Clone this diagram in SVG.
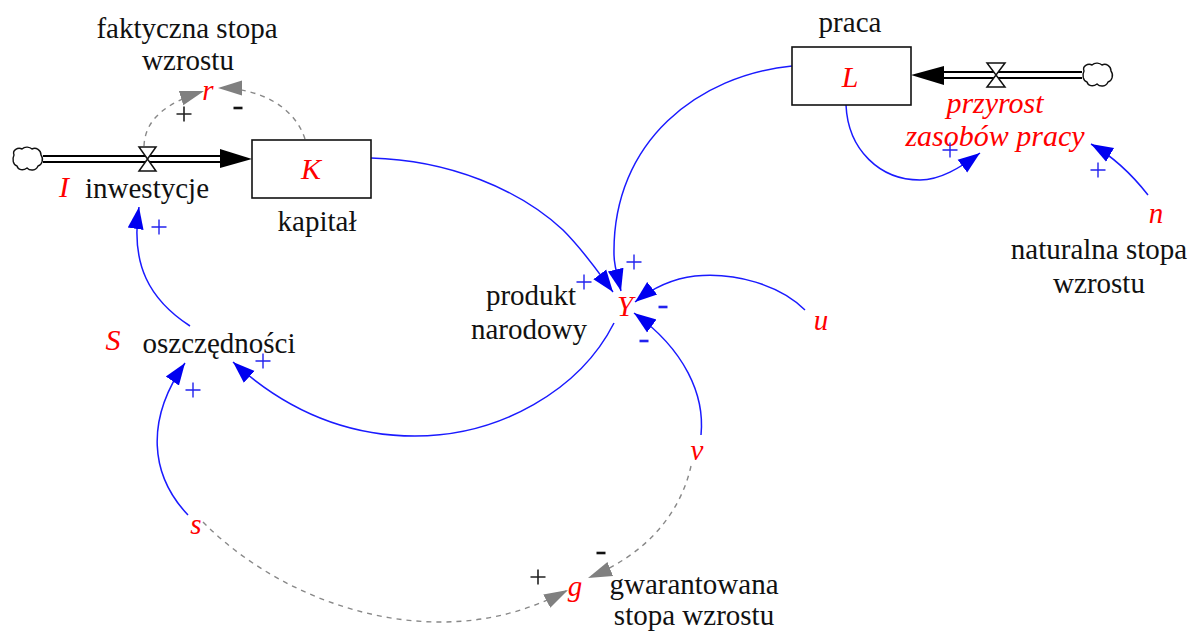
<svg xmlns="http://www.w3.org/2000/svg" width="1192" height="632" viewBox="0 0 1192 632">
<style>
text{font-family:"Liberation Serif","Times New Roman",serif;font-size:29px;fill:#111;text-anchor:middle}
.v{fill:#f00;font-style:italic;font-size:30px}
.vs{fill:#f00;font-style:italic;font-size:29px}
.stock{fill:#fff;stroke:#111;stroke-width:1.6}
.pipe{fill:none;stroke:#000;stroke-width:2}
.valve{fill:#fff;stroke:#111;stroke-width:1.5}
.cloud{fill:#fff;stroke:#111;stroke-width:1.4}
.link{fill:none;stroke:#1a1aff;stroke-width:1.5;marker-end:url(#blue)}
.dash{fill:none;stroke:#888;stroke-width:1.4;stroke-dasharray:5 5;marker-end:url(#gray)}
.sb{stroke:#2222ee;stroke-width:1.4;fill:none}
.sk{stroke:#222;stroke-width:1.6;fill:none}
.mb{stroke:#2222ee;stroke-width:2.6;fill:none}
.mk{stroke:#111;stroke-width:2.6;fill:none}
</style>
<defs>
<marker id="blue" markerUnits="userSpaceOnUse" markerWidth="24" markerHeight="20" refX="22" refY="10" orient="auto"><path d="M0 2L22 10L0 18Z" fill="#0000f0"/></marker>
<marker id="gray" markerUnits="userSpaceOnUse" markerWidth="26" markerHeight="20" refX="24" refY="10" orient="auto"><path d="M0 2.500L24 10L0 17.500Z" fill="#808080"/></marker>
<path id="cl" d="M2 8C0 3 6 0 10 2C13 -1 18 0 20 2C24 0 29 3 29 8C32 12 30 18 26 19C24 24 18 24 15 21C11 24 6 23 5 19C1 18 0 12 2 8Z"/>
<path id="pl" d="M-7.500 0H7.500M0 -7.500V7.500"/>
<path id="mn" d="M-4.500 0H4.500"/>
</defs>

<g id="connectors">
<path class="dash" d="M144 146C145 120 165 103 204 91"/>
<path class="dash" d="M305 139C295 108 262 88 218 88"/>
<path class="link" d="M371 158C450 160 520 190 563 230C585 252 598 272 613 292"/>
<path class="link" d="M792 66C700 75 612 140 614 255C614 265 617 275 621 291"/>
<path class="link" d="M805 310C780 285 735 272 695 276C670 279 650 290 635 302"/>
<path class="link" d="M701 435C705 395 685 350 634 313"/>
<path class="link" d="M614 323C580 390 500 436 415 436C340 436 280 405 233 362"/>
<path class="link" d="M190 326C150 300 130 265 139 207"/>
<path class="link" d="M188 515C150 475 145 420 185 363"/>
<path class="dash" d="M203 522C260 580 350 622 440 622C490 622 530 610 568 590"/>
<path class="dash" d="M691 466C680 515 645 555 588 578"/>
<path class="link" d="M846 105C848 150 880 180 920 180C940 180 960 168 980 153"/>
<path class="link" d="M1148 195C1130 172 1112 156 1091 144"/>
</g>

<g id="flow-inwestycje">
<use href="#cl" class="cloud" x="12" y="147"/>
<path class="pipe" d="M43 156H222M43 162H222"/>
<path d="M220 149L252 159L220 168Z" fill="#000"/>
<path class="valve" d="M139 147H156L139 171H156Z"/>
<text class="v" x="64" y="197">I</text>
<text x="147" y="198">inwestycje</text>
</g>
<g id="flow-przyrost">
<use href="#cl" class="cloud" x="1082" y="63"/>
<path class="pipe" d="M942 72H1082M942 78H1082"/>
<path d="M944 66L911 75L944 85Z" fill="#000"/>
<path class="valve" d="M987 63H1005L987 87H1005Z"/>
<text class="v" x="995" y="113">przyrost</text>
<text class="v" x="995" y="146">zasobów pracy</text>
</g>
<g id="stock-K">
<rect class="stock" x="252" y="140" width="119" height="58"/>
<text class="v" x="311" y="179">K</text>
<text x="317" y="231">kapitał</text>
</g>
<g id="stock-L">
<rect class="stock" x="792" y="47" width="119" height="58"/>
<text class="v" x="850" y="87">L</text>
<text x="850" y="32">praca</text>
</g>
<g id="node-r"><text class="vs" x="208" y="100">r</text><text x="187" y="38">faktyczna stopa</text><text x="188" y="70">wzrostu</text></g>
<g id="node-Y"><text class="vs" x="625" y="316">Y</text><text x="531" y="305">produkt</text><text x="529" y="339">narodowy</text></g>
<g id="node-S"><text class="v" x="113" y="350">S</text><text x="219" y="353">oszczędności</text></g>
<g id="node-u"><text class="vs" x="821" y="330">u</text></g>
<g id="node-v"><text class="vs" x="697" y="460">v</text></g>
<g id="node-n"><text class="vs" x="1156" y="223">n</text><text x="1099" y="259">naturalna stopa</text><text x="1099" y="293">wzrostu</text></g>
<g id="node-s"><text class="vs" x="196" y="534">s</text></g>
<g id="node-g"><text class="vs" x="575" y="596">g</text><text x="694" y="594">gwarantowana</text><text x="694" y="625">stopa wzrostu</text></g>

<g id="signs">
<use href="#pl" class="sk" x="184" y="114"/><use href="#mn" class="mk" x="238" y="108"/>
<use href="#pl" class="sb" x="159" y="227"/><use href="#pl" class="sb" x="263" y="361"/>
<use href="#pl" class="sb" x="193" y="390"/><use href="#pl" class="sb" x="584" y="282"/>
<use href="#pl" class="sb" x="634" y="262"/><use href="#pl" class="sb" x="950" y="150"/>
<use href="#pl" class="sb" x="1098" y="170"/><use href="#pl" class="sk" x="538" y="577"/>
<use href="#mn" class="mb" x="663" y="307"/><use href="#mn" class="mb" x="644" y="341"/>
<use href="#mn" class="mk" x="601" y="553"/>
</g>
</svg>
